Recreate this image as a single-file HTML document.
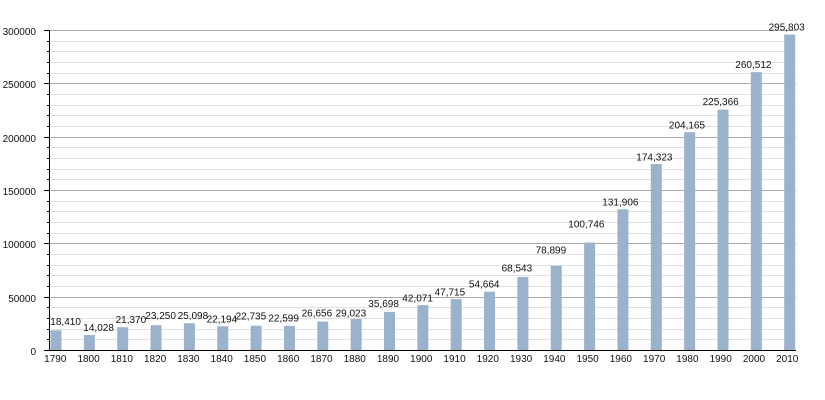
<!DOCTYPE html>
<html><head><meta charset="utf-8"><style>
html,body{margin:0;padding:0;background:#fff;}
svg{display:block;}
text{font-family:"Liberation Sans",Arial,sans-serif;font-size:10px;fill:#111;}
</style></head><body>
<svg width="825" height="400" viewBox="0 0 825 400" xmlns="http://www.w3.org/2000/svg">
<rect width="825" height="400" fill="#fff"/>
<g stroke="#e0e0e0" stroke-width="1" shape-rendering="crispEdges">
<line x1="47" x2="796" y1="339.5" y2="339.5"/><line x1="47" x2="796" y1="329.5" y2="329.5"/><line x1="47" x2="796" y1="318.5" y2="318.5"/><line x1="47" x2="796" y1="307.5" y2="307.5"/>
<line x1="47" x2="796" y1="286.5" y2="286.5"/><line x1="47" x2="796" y1="275.5" y2="275.5"/><line x1="47" x2="796" y1="265.5" y2="265.5"/><line x1="47" x2="796" y1="254.5" y2="254.5"/>
<line x1="47" x2="796" y1="233.5" y2="233.5"/><line x1="47" x2="796" y1="222.5" y2="222.5"/><line x1="47" x2="796" y1="211.5" y2="211.5"/><line x1="47" x2="796" y1="201.5" y2="201.5"/>
<line x1="47" x2="796" y1="179.5" y2="179.5"/><line x1="47" x2="796" y1="169.5" y2="169.5"/><line x1="47" x2="796" y1="158.5" y2="158.5"/><line x1="47" x2="796" y1="147.5" y2="147.5"/>
<line x1="47" x2="796" y1="126.5" y2="126.5"/><line x1="47" x2="796" y1="115.5" y2="115.5"/><line x1="47" x2="796" y1="105.5" y2="105.5"/><line x1="47" x2="796" y1="94.5" y2="94.5"/>
<line x1="47" x2="796" y1="73.5" y2="73.5"/><line x1="47" x2="796" y1="62.5" y2="62.5"/><line x1="47" x2="796" y1="51.5" y2="51.5"/><line x1="47" x2="796" y1="41.5" y2="41.5"/>
</g>
<g stroke="#aaaaaa" stroke-width="1" shape-rendering="crispEdges">
<line x1="50" x2="796" y1="297.5" y2="297.5"/><line x1="50" x2="796" y1="243.5" y2="243.5"/><line x1="50" x2="796" y1="190.5" y2="190.5"/>
<line x1="50" x2="796" y1="137.5" y2="137.5"/><line x1="50" x2="796" y1="83.5" y2="83.5"/><line x1="50" x2="796" y1="30.5" y2="30.5"/>
</g>
<g stroke="#000" stroke-width="1" shape-rendering="crispEdges">
<line x1="47" x2="50" y1="339.5" y2="339.5"/><line x1="47" x2="50" y1="329.5" y2="329.5"/><line x1="47" x2="50" y1="318.5" y2="318.5"/><line x1="47" x2="50" y1="307.5" y2="307.5"/>
<line x1="47" x2="50" y1="286.5" y2="286.5"/><line x1="47" x2="50" y1="275.5" y2="275.5"/><line x1="47" x2="50" y1="265.5" y2="265.5"/><line x1="47" x2="50" y1="254.5" y2="254.5"/>
<line x1="47" x2="50" y1="233.5" y2="233.5"/><line x1="47" x2="50" y1="222.5" y2="222.5"/><line x1="47" x2="50" y1="211.5" y2="211.5"/><line x1="47" x2="50" y1="201.5" y2="201.5"/>
<line x1="47" x2="50" y1="179.5" y2="179.5"/><line x1="47" x2="50" y1="169.5" y2="169.5"/><line x1="47" x2="50" y1="158.5" y2="158.5"/><line x1="47" x2="50" y1="147.5" y2="147.5"/>
<line x1="47" x2="50" y1="126.5" y2="126.5"/><line x1="47" x2="50" y1="115.5" y2="115.5"/><line x1="47" x2="50" y1="105.5" y2="105.5"/><line x1="47" x2="50" y1="94.5" y2="94.5"/>
<line x1="47" x2="50" y1="73.5" y2="73.5"/><line x1="47" x2="50" y1="62.5" y2="62.5"/><line x1="47" x2="50" y1="51.5" y2="51.5"/><line x1="47" x2="50" y1="41.5" y2="41.5"/>
<line x1="44" x2="50" y1="297.5" y2="297.5"/><line x1="44" x2="50" y1="243.5" y2="243.5"/><line x1="44" x2="50" y1="190.5" y2="190.5"/>
<line x1="44" x2="50" y1="137.5" y2="137.5"/><line x1="44" x2="50" y1="83.5" y2="83.5"/><line x1="44" x2="50" y1="30.5" y2="30.5"/><line x1="44" x2="50" y1="350.5" y2="350.5"/>
</g>
<g fill="#9ab2cc">
<rect x="50.5" y="330.36" width="11" height="19.64"/>
<rect x="83.85" y="335.04" width="11" height="14.96"/>
<rect x="117.2" y="327.21" width="11" height="22.79"/>
<rect x="150.55" y="325.2" width="11" height="24.8"/>
<rect x="183.9" y="323.23" width="11" height="26.77"/>
<rect x="217.25" y="326.33" width="11" height="23.67"/>
<rect x="250.6" y="325.75" width="11" height="24.25"/>
<rect x="283.95" y="325.89" width="11" height="24.11"/>
<rect x="317.3" y="321.57" width="11" height="28.43"/>
<rect x="350.65" y="319.04" width="11" height="30.96"/>
<rect x="384" y="311.92" width="11" height="38.08"/>
<rect x="417.35" y="305.12" width="11" height="44.88"/>
<rect x="450.7" y="299.1" width="11" height="50.9"/>
<rect x="484.05" y="291.69" width="11" height="58.31"/>
<rect x="517.4" y="276.89" width="11" height="73.11"/>
<rect x="550.75" y="265.84" width="11" height="84.16"/>
<rect x="584.1" y="242.54" width="11" height="107.46"/>
<rect x="617.45" y="209.3" width="11" height="140.7"/>
<rect x="650.8" y="164.06" width="11" height="185.94"/>
<rect x="684.15" y="132.22" width="11" height="217.78"/>
<rect x="717.5" y="109.61" width="11" height="240.39"/>
<rect x="750.85" y="72.12" width="11" height="277.88"/>
<rect x="784.2" y="34.48" width="11" height="315.52"/>
</g>
<g stroke="#000" stroke-width="1" shape-rendering="crispEdges">
<line x1="49.5" x2="49.5" y1="30" y2="351"/>
<line x1="49" x2="796" y1="350.5" y2="350.5"/>
</g>
<g text-anchor="end">
<text x="36" y="35">300000</text>
<text x="36" y="88">250000</text>
<text x="36" y="142">200000</text>
<text x="36" y="195">150000</text>
<text x="36" y="248">100000</text>
<text x="36" y="302">50000</text>
<text x="36" y="355">0</text>
</g>
<g text-anchor="middle">
<text x="55.3" y="362">1790</text>
<text x="88.57" y="362">1800</text>
<text x="121.84" y="362">1810</text>
<text x="155.11" y="362">1820</text>
<text x="188.38" y="362">1830</text>
<text x="221.65" y="362">1840</text>
<text x="254.92" y="362">1850</text>
<text x="288.19" y="362">1860</text>
<text x="321.46" y="362">1870</text>
<text x="354.73" y="362">1880</text>
<text x="388" y="362">1890</text>
<text x="421.27" y="362">1900</text>
<text x="454.54" y="362">1910</text>
<text x="487.81" y="362">1920</text>
<text x="521.08" y="362">1930</text>
<text x="554.35" y="362">1940</text>
<text x="587.62" y="362">1950</text>
<text x="620.89" y="362">1960</text>
<text x="654.16" y="362">1970</text>
<text x="687.43" y="362">1980</text>
<text x="720.7" y="362">1990</text>
<text x="753.97" y="362">2000</text>
<text x="787.24" y="362">2010</text>
</g>
<g>
<text x="50.3" y="324.8">18,410</text>
<text x="83.3" y="330.8">14,028</text>
<text x="115.6" y="323">21,370</text>
<text x="145.3" y="318.8">23,250</text>
<text x="177.6" y="318.8">25,098</text>
<text x="206.6" y="322.7">22,194</text>
<text x="235.6" y="319.4">22,735</text>
<text x="268.3" y="321.4">22,599</text>
<text x="301.6" y="316.4">26,656</text>
<text x="335.6" y="316.4">29,023</text>
<text x="368.3" y="307">35,698</text>
<text x="402.3" y="301.4">42,071</text>
<text x="434.6" y="295.4">47,715</text>
<text x="468.9" y="287.7">54,664</text>
<text x="501.6" y="271.4">68,543</text>
<text x="535.6" y="253.7">78,899</text>
<text x="568.3" y="227.7">100,746</text>
<text x="602.3" y="205.4">131,906</text>
<text x="636.3" y="160.7">174,323</text>
<text x="668.9" y="128.4">204,165</text>
<text x="702.6" y="105">225,366</text>
<text x="735.3" y="68">260,512</text>
<text x="768.6" y="30.4">295,803</text>
</g>
</svg>
</body></html>
